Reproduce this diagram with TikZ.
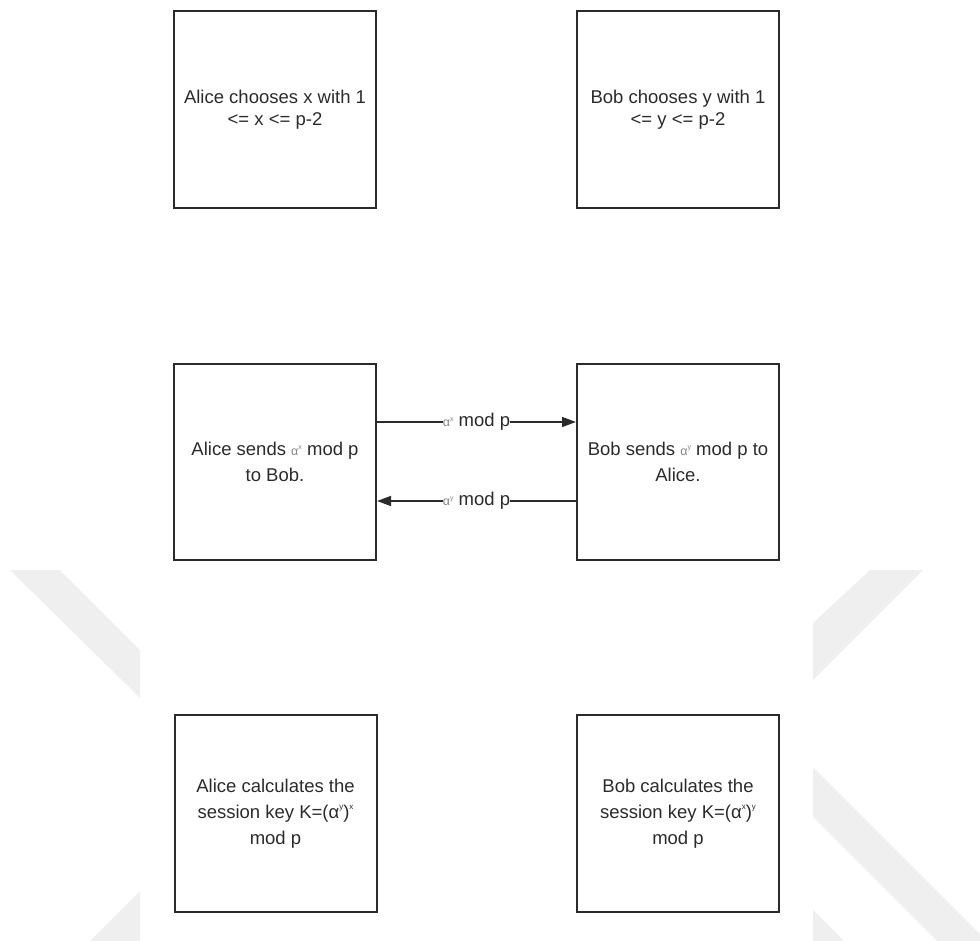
\documentclass[tikz,border=0pt]{standalone}
\usepackage{fontspec}
\setmainfont{Liberation Sans}
\usetikzlibrary{arrows.meta}
\definecolor{ink}{HTML}{2B2B2B}
\definecolor{wmark}{HTML}{EFEFEF}
\definecolor{faint}{HTML}{858585}
% small raised index
\newcommand{\upidx}[1]{\raisebox{0.5em}{\fontsize{8}{8}\selectfont #1}}
% small grey alpha with an index
\newcommand{\smalpha}[1]{{\color{faint}\fontsize{12.5}{12.5}\selectfont α\raisebox{0.45em}{\fontsize{7}{7}\selectfont #1}}}
\begin{document}
\begin{tikzpicture}[x=1pt,y=-1pt,
  box/.style={draw=ink, line width=2pt, minimum width=202pt, minimum height=197pt,
    align=center, text=ink, inner sep=0pt, font=\fontsize{18.5}{22}\selectfont},
  tallbox/.style={box, font=\fontsize{18.5}{26}\selectfont},
  link/.style={draw=ink, line width=1.5pt, -{Triangle[length=14pt,width=10pt]}},
  tag/.style={fill=white, inner sep=0pt, outer sep=0pt, text=ink, font=\fontsize{18.5}{22}\selectfont}]
\useasboundingbox (0,0) rectangle (980,941);

% background mark
\fill[wmark] (10,570) -- (60,570) -- (140,650) -- (140,698) -- cycle;
\fill[wmark] (90,941) -- (140,891) -- (140,941) -- cycle;
\fill[wmark] (870,570) -- (923,570) -- (813,680) -- (813,623) -- cycle;
\fill[wmark] (813,767) -- (980,934) -- (980,941) -- (937,941) -- (813,817) -- cycle;
\fill[wmark] (813,910) -- (813,941) -- (844,941) -- cycle;

% step 1: private choices
\node[box] (a1) at (275,109.5) {Alice chooses x with 1\\<= x <= p-2};
\node[box] (b1) at (678,109.5) {Bob chooses y with 1\\<= y <= p-2};

% step 2: exchange
\node[tallbox, minimum height=196pt] (a2) at (275,462) {Alice sends \smalpha{x} mod p\\to Bob.};
\node[tallbox, minimum height=196pt] (b2) at (678,462) {Bob sends \smalpha{y} mod p to\\Alice.};

\draw[link] ([yshift=40pt]a2.east) -- node[tag] {\smalpha{x} mod p} ([yshift=40pt]b2.west);
\draw[link] ([yshift=-39pt]b2.west) -- node[tag] {\smalpha{y} mod p} ([yshift=-39pt]a2.east);

% step 3: shared key
\node[tallbox] (a3) at (275.5,813.5) {Alice calculates the\\session key K=(α\upidx{y})\upidx{x}\\mod p};
\node[tallbox] (b3) at (678,813.5) {Bob calculates the\\session key K=(α\upidx{x})\upidx{y}\\mod p};
\end{tikzpicture}
\end{document}
